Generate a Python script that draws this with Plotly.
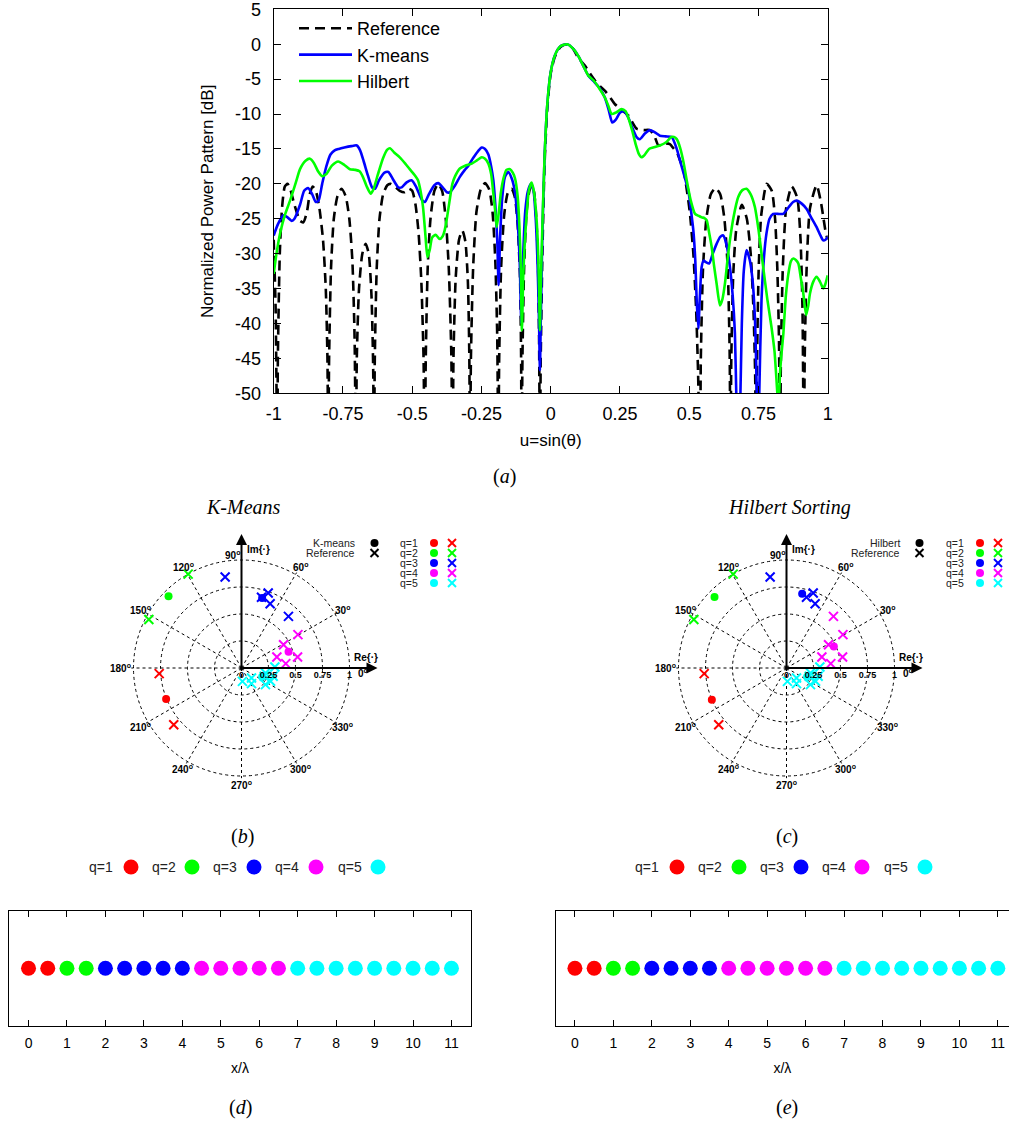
import math
import plotly.graph_objects as go

# ---------------- (a) normalized power pattern ----------------
u_ref = [-1.000, -0.993, -0.987,
         -0.985, -0.978, -0.970, -0.960, -0.950, -0.940, -0.925, -0.905, -0.893, -0.880, -0.870, -0.859, -0.848, -0.835, -0.822, -0.812, -0.806, -0.803,
         -0.800, -0.793, -0.783, -0.770, -0.755, -0.740, -0.727, -0.716, -0.708, -0.703,
         -0.700, -0.692, -0.680, -0.668, -0.657, -0.647, -0.641, -0.638,
         -0.635, -0.628, -0.618, -0.605, -0.590, -0.578, -0.563, -0.545, -0.527, -0.512, -0.500, -0.488, -0.477, -0.467, -0.459, -0.455,
         -0.451, -0.444, -0.434, -0.420, -0.406, -0.392, -0.379, -0.368, -0.359, -0.354,
         -0.351, -0.343, -0.331, -0.319, -0.308, -0.299, -0.294, -0.291,
         -0.288, -0.280, -0.268, -0.252, -0.237, -0.222, -0.210, -0.200, -0.193, -0.189,
         -0.186, -0.179, -0.168, -0.155, -0.141, -0.129, -0.119, -0.111, -0.107, -0.105,
         -0.102, -0.096, -0.087, -0.077, -0.069, -0.060, -0.052, -0.046, -0.042, -0.039,
         -0.036, -0.030, -0.022, -0.012, 0.000, 0.015, 0.035, 0.060, 0.080, 0.100, 0.124, 0.142, 0.160, 0.178, 0.196, 0.214, 0.232, 0.256,
         0.280, 0.310, 0.335, 0.358, 0.375, 0.389, 0.410, 0.430, 0.445, 0.458, 0.470, 0.480, 0.490, 0.502, 0.515, 0.525, 0.532, 0.539,
         0.542, 0.550, 0.562, 0.578, 0.595, 0.612, 0.627, 0.639, 0.646, 0.649,
         0.652, 0.659, 0.670, 0.690, 0.708, 0.722, 0.732, 0.738, 0.742,
         0.745, 0.751, 0.760, 0.780, 0.798, 0.810, 0.818, 0.824, 0.828,
         0.831, 0.838, 0.850, 0.870, 0.890, 0.902, 0.909, 0.914,
         0.917, 0.924, 0.936, 0.960, 0.975, 0.985, 0.993, 1.000]
db_ref = [-28, -38, -60,
          -45, -30, -23.5, -20.4, -20, -20.8, -23, -25.3, -25.5, -24, -21.5, -20.4, -21, -23.5, -28, -35, -45, -60,
          -45, -32, -25, -21.8, -20.7, -21.8, -25, -31, -42, -60,
          -45, -35, -30, -28.6, -30, -36, -46, -60,
          -45, -32, -25, -21.5, -20.2, -20, -20.4, -21, -21.2, -20.7, -21, -23, -27, -34, -45, -60,
          -45, -32, -25, -21, -20, -21, -25, -32, -44, -60,
          -45, -33.5, -28, -26.7, -28.3, -34, -44, -60,
          -45, -32, -24, -20.7, -19.9, -20.8, -24, -31, -42, -60,
          -45, -32, -24.5, -21.3, -20.7, -22, -26, -33, -44, -60,
          -45, -32, -24, -21, -20.2, -21.2, -25, -31, -42, -60,
          -45, -30, -17, -9, -4.2, -1.8, -0.4, 0, -0.6, -2, -3.1, -4.2, -5.2, -6, -6.7, -7.6, -8.6, -9.4,
          -10.2, -12.1, -12.3, -12.3, -13.2, -14.5, -14.2, -14.3, -15, -15.7, -17, -18.1, -20.5, -24, -30, -38, -47, -60,
          -45, -32, -25, -21.5, -20.6, -21.5, -25, -32, -44, -60,
          -45, -33, -26.5, -23, -25, -30, -38, -47, -60,
          -45, -32, -24.5, -20, -21, -25, -32, -42, -60,
          -45, -32, -23.5, -20.4, -22, -28, -38, -60,
          -45, -32, -23.5, -20.2, -22.5, -25, -27, -28]

u_kmeans = [-1.000, -0.985, -0.965, -0.950, -0.935, -0.925, -0.905, -0.890, -0.876, -0.862,
            -0.848, -0.838, -0.825, -0.810, -0.795, -0.780, -0.765, -0.745, -0.720, -0.700,
            -0.688, -0.675, -0.660, -0.645, -0.634, -0.620, -0.600, -0.586, -0.570, -0.550,
            -0.538, -0.520, -0.502, -0.485, -0.465, -0.454, -0.440, -0.420, -0.406, -0.390,
            -0.375, -0.364, -0.345, -0.328, -0.310, -0.297, -0.280, -0.262, -0.249, -0.237,
            -0.225, -0.215, -0.207, -0.200, -0.193, -0.188, -0.183, -0.175, -0.165, -0.153,
            -0.140, -0.129, -0.120, -0.112, -0.106, -0.100, -0.092, -0.082, -0.071, -0.062,
            -0.054, -0.047, -0.042, -0.039, -0.036, -0.030, -0.022, -0.012, 0.000, 0.015,
            0.035, 0.060, 0.080, 0.100, 0.120, 0.136, 0.155, 0.175, 0.195, 0.210,
            0.222, 0.235, 0.250, 0.265, 0.280, 0.295, 0.310, 0.322, 0.340, 0.358,
            0.375, 0.394, 0.415, 0.437, 0.455, 0.467, 0.482, 0.497, 0.507, 0.515,
            0.522, 0.527, 0.533, 0.538, 0.545, 0.552, 0.560, 0.572, 0.585, 0.599,
            0.612, 0.623, 0.635, 0.647, 0.657, 0.665, 0.671, 0.678, 0.684, 0.690,
            0.697, 0.707, 0.718, 0.728, 0.737, 0.744, 0.748, 0.753, 0.761, 0.770,
            0.779, 0.790, 0.803, 0.820, 0.839, 0.860, 0.875, 0.888, 0.905, 0.924,
            0.940, 0.960, 0.975, 0.984, 0.992, 1.000]
db_kmeans = [-27.4, -25.8, -24.5, -24.8, -25.3, -25.0, -23.0, -21.0, -20.6, -21.4,
             -22.6, -22.4, -20.0, -17.5, -15.8, -15.2, -15.0, -14.8, -14.6, -14.5,
             -15.2, -16.8, -18.8, -20.5, -20.7, -19.5, -18.4, -18.3, -19.3, -20.5,
             -20.5, -19.8, -19.5, -20.5, -22.3, -22.6, -21.5, -20.2, -19.9, -20.5,
             -21.2, -21.2, -20.2, -19.0, -18.0, -17.4, -16.3, -15.3, -14.8, -15.0,
             -15.8, -17.5, -19.5, -23.0, -28.0, -34.5, -28.0, -22.0, -19.0, -18.3,
             -19.3, -21.2, -25.0, -31.0, -40.0, -31.0, -24.0, -21.0, -20.0, -21.0,
             -25.0, -32.0, -40.0, -46.7, -40.0, -27.0, -16.0, -8.5, -4.0, -1.6,
             -0.3, 0.0, -0.6, -1.7, -3.3, -4.5, -5.3, -6.2, -7.6, -9.5,
             -11.2, -10.8, -9.8, -9.6, -10.5, -12.0, -13.3, -13.6, -12.8, -12.3,
             -12.6, -13.1, -13.2, -13.3, -15.0, -16.7, -18.8, -21.0, -24.0, -26.7,
             -31.0, -36.7, -40.7, -36.5, -31.9, -31.0, -31.2, -31.4, -30.0, -28.6,
             -27.6, -27.4, -28.8, -31.9, -36.0, -41.4, -52.0, -60.0, -52.0, -40.0,
             -32.5, -29.5, -30.8, -33.5, -39.0, -50.0, -60.0, -50.0, -36.7, -30.5,
             -27.1, -25.0, -24.3, -24.3, -24.3, -23.3, -22.6, -22.4, -22.8, -23.6,
             -24.8, -26.2, -27.5, -28.1, -28.0, -27.6]

u_hilbert = [-1.000, -0.990, -0.977, -0.960, -0.941, -0.920, -0.905, -0.885, -0.869, -0.855,
             -0.840, -0.825, -0.810, -0.790, -0.767, -0.745, -0.725, -0.705, -0.690, -0.678,
             -0.665, -0.650, -0.640, -0.625, -0.605, -0.590, -0.580, -0.565, -0.545, -0.525,
             -0.509, -0.490, -0.479, -0.470, -0.461, -0.452, -0.445, -0.437, -0.428, -0.415,
             -0.401, -0.390, -0.383, -0.375, -0.365, -0.355, -0.345, -0.328, -0.309, -0.285,
             -0.265, -0.249, -0.237, -0.225, -0.215, -0.207, -0.200, -0.195, -0.188, -0.180,
             -0.171, -0.160, -0.147, -0.137, -0.129, -0.120, -0.113, -0.108, -0.104, -0.099,
             -0.093, -0.087, -0.079, -0.069, -0.061, -0.054, -0.047, -0.042, -0.039, -0.036,
             -0.030, -0.022, -0.012, 0.000, 0.015, 0.035, 0.060, 0.080, 0.100, 0.120,
             0.136, 0.155, 0.175, 0.195, 0.208, 0.220, 0.235, 0.256, 0.270, 0.280,
             0.295, 0.308, 0.318, 0.328, 0.340, 0.355, 0.370, 0.394, 0.418, 0.435,
             0.445, 0.455, 0.467, 0.480, 0.491, 0.505, 0.521, 0.535, 0.545, 0.555,
             0.563, 0.572, 0.581, 0.590, 0.599, 0.611, 0.620, 0.629, 0.638, 0.647,
             0.660, 0.677, 0.692, 0.707, 0.722, 0.737, 0.750, 0.767, 0.782, 0.797,
             0.808, 0.815, 0.822, 0.828, 0.834, 0.840, 0.849, 0.858, 0.867, 0.876,
             0.885, 0.894, 0.903, 0.912, 0.922, 0.930, 0.936, 0.948, 0.960, 0.972,
             0.984, 0.992, 1.000]
db_hilbert = [-32.9, -30.0, -27.1, -24.5, -22.4, -19.8, -17.9, -16.7, -16.4, -17.0,
              -18.2, -18.9, -18.6, -17.4, -16.8, -17.3, -17.9, -18.0, -18.2, -19.0,
              -20.3, -21.4, -20.8, -18.8, -16.3, -15.1, -14.9, -15.5, -16.2, -17.1,
              -17.9, -18.8, -19.5, -21.0, -23.3, -27.5, -30.5, -29.5, -27.7, -27.3,
              -27.9, -27.5, -26.7, -25.0, -22.4, -20.0, -18.9, -17.8, -17.4, -17.1,
              -16.6, -16.2, -16.4, -17.1, -18.6, -21.4, -24.0, -26.2, -24.3, -21.3,
              -19.3, -18.0, -17.9, -18.4, -19.2, -21.5, -26.0, -32.0, -41.0, -33.0,
              -28.0, -24.5, -21.0, -19.8, -21.0, -23.5, -28.0, -35.0, -41.0, -35.0,
              -26.0, -16.0, -8.5, -4.0, -1.6, -0.3, 0.0, -0.6, -1.7, -3.3,
              -4.5, -5.2, -6.3, -7.6, -8.8, -10.0, -9.8, -9.3, -9.6, -10.5,
              -12.5, -14.5, -15.7, -16.2, -15.8, -15.0, -14.8, -14.5, -14.0, -13.3,
              -13.3, -13.6, -14.8, -17.0, -19.5, -22.3, -24.3, -24.6, -24.8, -24.9,
              -25.2, -27.0, -29.0, -31.8, -34.3, -37.4, -36.5, -34.3, -31.0, -28.1,
              -24.8, -21.9, -20.9, -20.7, -21.5, -23.3, -26.5, -31.9, -36.5, -40.5,
              -44.0, -48.0, -52.0, -47.0, -44.0, -41.4, -36.0, -32.9, -31.1, -30.7,
              -30.9, -31.4, -33.5, -35.7, -38.8, -37.4, -35.7, -34.0, -33.3, -34.0,
              -35.0, -34.3, -33.1]

u_ticks = [-1, -0.75, -0.5, -0.25, 0, 0.25, 0.5, 0.75, 1]
u_ticktext = ["-1", "-0.75", "-0.5", "-0.25", "0", "0.25", "0.5", "0.75", "1"]
db_ticks = [5, 0, -5, -10, -15, -20, -25, -30, -35, -40, -45, -50]
db_ticktext = ["5", "0", "-5", "-10", "-15", "-20", "-25", "-30", "-35", "-40", "-45", "-50"]

# ---------------- (b),(c) excitations in the complex plane ----------------
ref_r = [0.764, 0.818, 1.000, 0.968, 0.856, 0.737, 0.680, 0.652, 0.646,
         0.607, 0.445, 0.343, 0.529, 0.412,
         0.124, 0.131, 0.172, 0.227, 0.309, 0.303, 0.270, 0.296, 0.224]
ref_theta = [183.9, 219.9, 119.6, 152.4, 100.2, 70.4, 74.2, 66.0, 47.7,
             30.6, 29.0, 17.3, 11.1, 5.6,
             274.0, 315.0, 302.7, 348.3, 1.7, 345.3, 325.3, 335.4, 339.9]
kmeans_q = [1, 1, 2, 2, 3, 3, 3, 3, 3, 4, 4, 4, 4, 4, 5, 5, 5, 5, 5, 5, 5, 5, 5]
hilbert_q = [1, 1, 2, 2, 3, 3, 3, 3, 4, 4, 4, 4, 4, 4, 5, 5, 5, 5, 5, 5, 5, 5, 5]
kmeans_cent_r = [0.755, 0.947, 0.676, 0.461, 0.207]
kmeans_cent_theta = [202.4, 135.5, 73.6, 19.1, 337.0]
hilbert_cent_r = [0.751, 0.936, 0.703, 0.482, 0.207]
hilbert_cent_theta = [203.0, 135.4, 78.1, 24.5, 337.0]
radial_ticks = [0, 0.25, 0.5, 0.75, 1]
angle_ticks = [0, 30, 60, 90, 120, 150, 180, 210, 240, 270, 300, 330]

# ---------------- (d),(e) element positions ----------------
x_lambda = [0, 0.5, 1, 1.5, 2, 2.5, 3, 3.5, 4, 4.5, 5, 5.5, 6, 6.5, 7, 7.5, 8, 8.5, 9, 9.5, 10, 10.5, 11]
kmeans_elem_q = [1, 1, 2, 2, 3, 3, 3, 3, 3, 4, 4, 4, 4, 4, 5, 5, 5, 5, 5, 5, 5, 5, 5]
hilbert_elem_q = [1, 1, 2, 2, 3, 3, 3, 3, 4, 4, 4, 4, 4, 4, 5, 5, 5, 5, 5, 5, 5, 5, 5]
row_y = 0
x_ticks = list(range(0, 12))

q_labels = ["q=1", "q=2", "q=3", "q=4", "q=5"]
q_colors = ["#ff0000", "#00ff00", "#0000ff", "#ff00ff", "#00ffff"]

# ---------------- layout helpers ----------------
W, H = 1009, 1124
SANS = "Liberation Sans, Arial, sans-serif"
SERIF = "Liberation Serif, Times New Roman, serif"


def xp(v):
    return v / W


def yp(v):
    return 1 - v / H


fig = go.Figure()

# (a) traces
fig.add_trace(go.Scatter(x=u_ref, y=db_ref, mode="lines", name="Reference",
                         line=dict(color="black", width=2.6, dash="10px,6px", shape="spline", smoothing=0.6),
                         xaxis="x", yaxis="y"))
fig.add_trace(go.Scatter(x=u_kmeans, y=db_kmeans, mode="lines", name="K-means",
                         line=dict(color="#0000ff", width=2.6, shape="spline", smoothing=0.6),
                         xaxis="x", yaxis="y"))
fig.add_trace(go.Scatter(x=u_hilbert, y=db_hilbert, mode="lines", name="Hilbert",
                         line=dict(color="#00ff00", width=2.6, shape="spline", smoothing=0.6),
                         xaxis="x", yaxis="y"))


def polar_traces(subplot, labels, cent_r, cent_theta):
    # cyan centroid lies underneath the crosses
    fig.add_trace(go.Scatterpolar(r=[cent_r[4]], theta=[cent_theta[4]], mode="markers", subplot=subplot,
                                  showlegend=False, cliponaxis=False,
                                  marker=dict(symbol="circle", size=8, color=q_colors[4])))
    for q in range(1, 6):
        rr = [r for r, l in zip(ref_r, labels) if l == q]
        tt = [t for t, l in zip(ref_theta, labels) if l == q]
        fig.add_trace(go.Scatterpolar(r=rr, theta=tt, mode="markers", subplot=subplot, showlegend=False,
                                      cliponaxis=False,
                                      marker=dict(symbol="x-thin", size=9, color=q_colors[q - 1],
                                                  line=dict(width=2, color=q_colors[q - 1]))))
    fig.add_trace(go.Scatterpolar(r=cent_r[:4], theta=cent_theta[:4], mode="markers", subplot=subplot,
                                  showlegend=False, cliponaxis=False,
                                  marker=dict(symbol="circle", size=8, color=q_colors[:4])))


polar_traces("polar", kmeans_q, kmeans_cent_r, kmeans_cent_theta)
polar_traces("polar2", hilbert_q, hilbert_cent_r, hilbert_cent_theta)

for q in range(1, 6):
    xs = [x for x, l in zip(x_lambda, kmeans_elem_q) if l == q]
    fig.add_trace(go.Scatter(x=xs, y=[row_y] * len(xs), mode="markers", showlegend=False,
                             marker=dict(size=15, color=q_colors[q - 1]), xaxis="x2", yaxis="y2"))
    xs = [x for x, l in zip(x_lambda, hilbert_elem_q) if l == q]
    fig.add_trace(go.Scatter(x=xs, y=[row_y] * len(xs), mode="markers", showlegend=False,
                             marker=dict(size=15, color=q_colors[q - 1]), xaxis="x3", yaxis="y3"))

axis_common = dict(showline=True, linecolor="black", linewidth=1.2, mirror="ticks", ticks="inside",
                   ticklen=7, tickcolor="black", showgrid=False, zeroline=False, automargin=False,
                   ticklabeloverflow="allow",
                   tickfont=dict(family=SANS, size=18, color="black"))
small_axis = {**axis_common, "tickfont": dict(family=SANS, size=14, color="black"), "ticklen": 6}
box_y = dict(range=[-1, 1], showline=True, mirror=True, linecolor="black", linewidth=1.2,
             showticklabels=False, ticks="", showgrid=False, zeroline=False, automargin=False)

RMAX = 1.02
polar_common = dict(
    bgcolor="white",
    radialaxis=dict(range=[0, RMAX], tickvals=radial_ticks, ticktext=["<b>%g</b>" % v for v in radial_ticks],
                    angle=0, side="clockwise", showline=False, ticks="", gridcolor="black",
                    griddash="dot", gridwidth=1, tickangle=0,
                    tickfont=dict(family=SANS, size=9, color="black")),
    angularaxis=dict(tickvals=angle_ticks, showticklabels=False,
                     showline=False, ticks="", gridcolor="black", griddash="dot", gridwidth=1,
                     direction="counterclockwise", rotation=0),
)

R = 108          # pixel radius of the unit circle
RD = R * RMAX    # pixel half-size of polar domain
cb = (241.5, 668)
cc = (786.5, 668)

fig.update_layout(
    template="none",
    width=W, height=H, autosize=False, margin=dict(l=0, r=0, t=0, b=0, pad=0, autoexpand=False),
    paper_bgcolor="white", plot_bgcolor="white",
    xaxis=dict(domain=[xp(273.7), xp(827.7)], range=[-1, 1], tickvals=u_ticks, ticktext=u_ticktext,
               anchor="y", ticklabelstandoff=4,
               title=dict(text="u=sin(θ)", font=dict(family=SANS, size=17, color="black"), standoff=11),
               **axis_common),
    yaxis=dict(domain=[yp(393.3), yp(9.3)], range=[-50, 5], tickvals=db_ticks, ticktext=db_ticktext,
               anchor="x", ticklabelstandoff=8,
               title=dict(text="Normalized Power Pattern [dB]", font=dict(family=SANS, size=17, color="black"),
                          standoff=17),
               **axis_common),
    xaxis2=dict(domain=[xp(9.3), xp(470.7)], range=[-0.5, 11.5], tickvals=x_ticks, anchor="y2",
                ticklabelstandoff=4,
                title=dict(text="x/λ", font=dict(family=SANS, size=14, color="black"), standoff=13),
                **small_axis),
    yaxis2=dict(domain=[yp(1025.7), yp(910.7)], anchor="x2", **box_y),
    xaxis3=dict(domain=[xp(555.7), 1.0], range=[-0.5, 11.29], tickvals=x_ticks, anchor="y3",
                ticklabelstandoff=4,
                title=dict(text="x/λ", font=dict(family=SANS, size=14, color="black"), standoff=13),
                **small_axis),
    yaxis3=dict(domain=[yp(1025.7), yp(910.7)], anchor="x3", **box_y),
    polar=dict(domain=dict(x=[xp(cb[0] - RD), xp(cb[0] + RD)], y=[yp(cb[1] + RD), yp(cb[1] - RD)]), **polar_common),
    polar2=dict(domain=dict(x=[xp(cc[0] - RD), xp(cc[0] + RD)], y=[yp(cc[1] + RD), yp(cc[1] - RD)]), **polar_common),
    legend=dict(x=xp(294), y=yp(10), xanchor="left", yanchor="top", bgcolor="rgba(0,0,0,0)",
                font=dict(family=SANS, size=18, color="black"), itemwidth=53),
    showlegend=True,
)

ann = []
shapes = []


def text(x, y, s, size=10, family=SANS, anchor="center", color="black"):
    ann.append(dict(x=xp(x), y=yp(y), xref="paper", yref="paper", text=s, showarrow=False,
                    xanchor=anchor, yanchor="middle", font=dict(family=family, size=size, color=color)))


def dot(x, y, d, color):
    shapes.append(dict(type="circle", xref="paper", yref="paper", x0=xp(x - d / 2), x1=xp(x + d / 2),
                       y0=yp(y + d / 2), y1=yp(y - d / 2), fillcolor=color, line=dict(width=0)))


def cross(x, y, h, color):
    shapes.append(dict(type="line", xref="paper", yref="paper", x0=xp(x - h), y0=yp(y - h), x1=xp(x + h),
                       y1=yp(y + h), line=dict(color=color, width=2)))
    shapes.append(dict(type="line", xref="paper", yref="paper", x0=xp(x - h), y0=yp(y + h), x1=xp(x + h),
                       y1=yp(y - h), line=dict(color=color, width=2)))


def arrow(x0, y0, x1, y1):
    ann.append(dict(x=xp(x1), y=yp(y1), xref="paper", yref="paper", ax=x0 - x1, ay=y0 - y1,
                    axref="pixel", ayref="pixel", text="", showarrow=True, arrowhead=2, arrowsize=1.1,
                    arrowwidth=2, arrowcolor="black", standoff=0, startstandoff=0))


# captions and titles
text(505, 476, "(<i>a</i>)", size=20, family=SERIF)
text(243, 507, "<i>K-Means</i>", size=20, family=SERIF)
text(789, 507, "<i>Hilbert Sorting</i>", size=20, family=SERIF)
text(242, 836, "(<i>b</i>)", size=20, family=SERIF)
text(787, 836, "(<i>c</i>)", size=20, family=SERIF)
text(240, 1107, "(<i>d</i>)", size=20, family=SERIF)
text(787, 1107, "(<i>e</i>)", size=20, family=SERIF)

# complex-plane axes with arrows, angle labels and legends
for (cx, cy), name, qx in ((cb, "K-means", 398), (cc, "Hilbert", 944)):
    arrow(cx, cy, cx + 136, cy)
    arrow(cx, cy, cx, cy - 134)
    text(cx + 124, cy - 10, "<b>Re{·}</b>", size=10)
    text(cx + 17, cy - 119, "<b>Im{·}</b>", size=10)
    for a in angle_ticks:
        if a == 90:
            lx, ly = cx - 9, cy - 113
        elif a == 0:
            lx, ly = cx + 121, cy + 5
        else:
            rl = 121 if a == 180 else 117
            lx = cx + rl * math.cos(math.radians(a))
            ly = cy - rl * math.sin(math.radians(a))
        text(lx, ly, "<b>%d<sup>o</sup></b>" % a, size=10)
    lx = cx + 115
    text(lx, 543, name, size=10.5, anchor="right", color="#222")
    text(lx, 553, "Reference", size=10.5, anchor="right", color="#222")
    dot(lx + 18, 543, 8, "black")
    cross(lx + 18, 553, 4, "black")
    for i in range(5):
        yy = 543 + 10 * i
        text(qx, yy, q_labels[i], size=10.5, anchor="left", color="#222")
        dot(qx + 36, yy, 8, q_colors[i])
        cross(qx + 54, yy, 4, q_colors[i])

# legends above (d) and (e)
for tx, cxs in (([100.5, 163.5, 225, 287, 349.5], [131, 192, 254, 316, 378]),
                ([647, 709.5, 771.5, 834, 895.5], [677, 739, 801, 862, 925])):
    for i in range(5):
        text(tx[i], 867, q_labels[i], size=14, color="#222")
        dot(cxs[i], 867, 15, q_colors[i])

fig.update_layout(annotations=ann, shapes=shapes)
fig.write_html("out.html", post_script="document.body.style.margin='0px';")
